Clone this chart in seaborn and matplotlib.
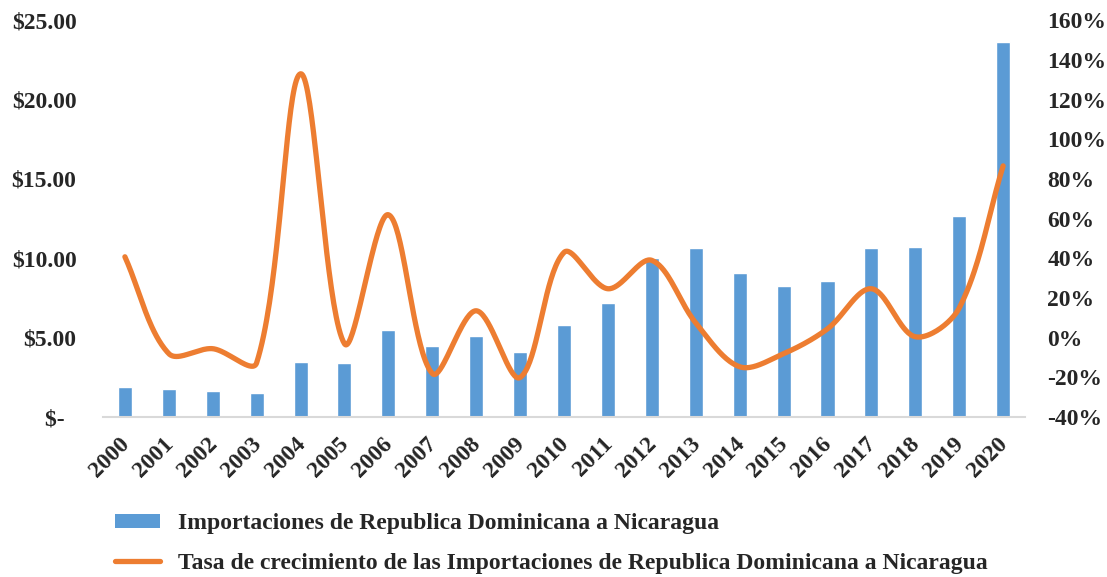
import numpy as np
import pandas as pd
import matplotlib
matplotlib.use("Agg")
import matplotlib.pyplot as plt
import matplotlib.transforms as mtransforms
from matplotlib.ticker import FixedLocator, FuncFormatter
from matplotlib.patches import Patch
from matplotlib.lines import Line2D
import seaborn as sns

years = [str(y) for y in range(2000, 2021)]
importaciones = [1.89, 1.76, 1.64, 1.51, 3.46, 3.40, 5.48, 4.47, 5.10, 4.09,
                 5.79, 7.18, 10.00, 10.64, 9.07, 8.25, 8.56, 10.64, 10.70, 12.66, 23.60]
tasa = [40.8, -8.0, -5.5, -12.6, 133.0, -3.0, 62.0, -18.0, 13.6, -20.0,
        43.0, 24.7, 39.0, 7.5, -14.6, -8.0, 4.5, 24.7, 0.5, 15.0, 86.6]

label_bar = "Importaciones de Republica Dominicana a Nicaragua"
label_line = "Tasa de crecimiento de las Importaciones de Republica Dominicana a Nicaragua"

BLUE = "#5B9BD5"
ORANGE = "#ED7D31"

sns.set_theme(style="white")
plt.rcParams["font.family"] = ["Liberation Serif", "DejaVu Serif"]
plt.rcParams["font.weight"] = "bold"
FS = 17


def smooth_curve(pts, n=40):
    """Smoothed line through points given in display space.

    Cubic Bezier segments whose control arms follow the neighbouring
    chord and are scaled by the adjacent segment lengths, which keeps
    the curve from overshooting next to very long segments.
    """
    pts = np.asarray(pts, float)
    ext = np.vstack([2 * pts[0] - pts[1], pts, 2 * pts[-1] - pts[-2]])
    seg = np.linalg.norm(np.diff(ext, axis=0), axis=1)
    out = []
    t = np.linspace(0, 1, n, endpoint=False)[:, None]
    for i in range(1, len(ext) - 2):
        p0, p1, p2, p3 = ext[i - 1], ext[i], ext[i + 1], ext[i + 2]
        l0, l1, l2 = seg[i - 1], seg[i], seg[i + 1]
        c1 = p1 + (p2 - p0) * (l1 / (l0 + l1)) / 3
        c2 = p2 - (p3 - p1) * (l1 / (l1 + l2)) / 3
        out.append((1 - t) ** 3 * p1 + 3 * (1 - t) ** 2 * t * c1
                   + 3 * (1 - t) * t ** 2 * c2 + t ** 3 * p2)
    out.append(pts[-1][None, :])
    return np.vstack(out)


df = pd.DataFrame({"year": years, "imp": importaciones, "tasa": tasa})

fig = plt.figure(figsize=(11.07, 5.77), dpi=100)
ax = fig.add_axes([0.093, 0.277, 0.833, 0.688])

sns.barplot(data=df, x="year", y="imp", color=BLUE, width=0.32,
            saturation=1, ax=ax)
ax.set_xlim(-0.5, len(years) - 0.5)
ax.set_ylim(0, 25)
ax.yaxis.set_major_locator(FixedLocator([0, 5, 10, 15, 20, 25]))
ax.yaxis.set_major_formatter(FuncFormatter(
    lambda v, p: "$-  " if v == 0 else f"${v:.2f}"))
ax.set_xlabel("")
ax.set_ylabel("")
for s in ("top", "left", "right"):
    ax.spines[s].set_visible(False)
ax.spines["bottom"].set_color("#D9D9D9")
ax.spines["bottom"].set_linewidth(1.5)
ax.tick_params(axis="y", length=0, pad=19, labelsize=FS)
ax.tick_params(axis="x", length=0, pad=5, labelsize=FS)
shift = mtransforms.ScaledTranslation(-6 / 100, -9 / 100, fig.dpi_scale_trans)
for lab in ax.get_xticklabels():
    lab.set_rotation(45)
    lab.set_ha("right")
    lab.set_rotation_mode("anchor")
    lab.set_fontweight("bold")
    lab.set_transform(lab.get_transform() + shift)
for lab in ax.get_yticklabels():
    lab.set_fontweight("bold")

ax2 = ax.twinx()
ax2.set_xlim(ax.get_xlim())
ax2.set_ylim(-40, 160)
xy = np.column_stack([np.arange(len(years)), tasa])
disp = ax2.transData.transform(xy)
curve = ax2.transData.inverted().transform(smooth_curve(disp))
sns.lineplot(x=curve[:, 0], y=curve[:, 1], sort=False, color=ORANGE,
             linewidth=3.8, ax=ax2)
ax2.set_ylim(-40, 160)
ax2.yaxis.set_major_locator(FixedLocator(np.arange(-40, 161, 20)))
ax2.yaxis.set_major_formatter(FuncFormatter(lambda v, p: f"{v:.0f}%"))
ax2.tick_params(axis="y", length=0, pad=16, labelsize=FS)
for lab in ax2.get_yticklabels():
    lab.set_fontweight("bold")
for s in ax2.spines.values():
    s.set_visible(False)
ax2.grid(False)
ax.grid(False)

handles = [Patch(facecolor=BLUE, edgecolor="none", label=label_bar),
           Line2D([], [], color=ORANGE, linewidth=3.8, label=label_line)]
fig.legend(handles=handles, loc="upper left", bbox_to_anchor=(0.085, 0.147),
           frameon=False, ncol=1, handlelength=1.9, handleheight=0.55,
           handletextpad=0.75, labelspacing=0.77,
           prop={"family": "Liberation Serif", "weight": "bold", "size": FS})

fig.savefig("out.png", dpi=100, facecolor="white")
